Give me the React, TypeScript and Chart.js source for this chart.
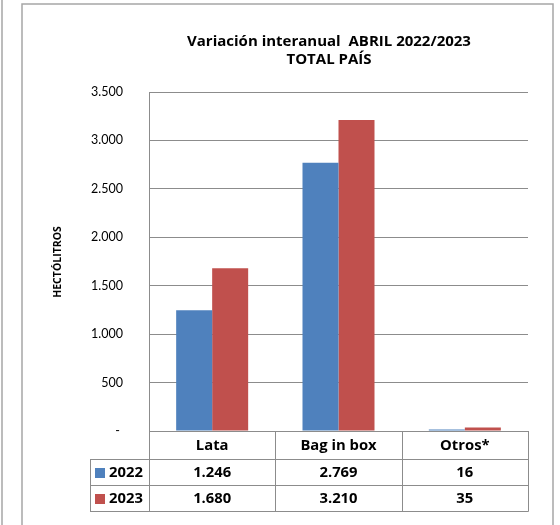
import React, { useEffect, useRef } from 'react';
import { Chart, registerables } from 'chart.js';

Chart.register(...registerables);

const categories = ['Lata', 'Bag in box', 'Otros*'];
const seriesLabels = ['2022', '2023'];
const values2022 = [1246, 2769, 16];
const values2023 = [1680, 3210, 35];
const seriesColors = ['#4F81BD', '#C0504D'];
const titleLines = ['Variación interanual  ABRIL 2022/2023', 'TOTAL PAÍS'];
const yAxisTitle = 'HECTÓLITROS';
const yMin = 0;
const yMax = 3500;
const yStep = 500;

const FONT = 'Lato, "Open Sans", "Liberation Sans", sans-serif';
const BFONT = '"Open Sans", Lato, "Liberation Sans", sans-serif';
const GRID = '#8c8c8c';
const FRAME = '#a6a6a6';

const fmt = (n: number) =>
  n === 0 ? '- ' : String(n).replace(/\B(?=(\d{3})+(?!\d))/g, '.');

const decorPlugin = {
  id: 'decor',
  beforeDraw(chart: any) {
    const ctx = chart.ctx;
    ctx.save();
    ctx.fillStyle = '#ffffff';
    ctx.fillRect(0, 0, chart.width, chart.height);
    ctx.strokeStyle = FRAME;
    ctx.lineWidth = 1.5;
    ctx.beginPath();
    ctx.moveTo(2, 0);
    ctx.lineTo(2, chart.height);
    ctx.moveTo(22, chart.height + 2);
    ctx.lineTo(22, 4);
    ctx.lineTo(553, 4);
    ctx.lineTo(553, chart.height + 2);
    ctx.stroke();
    ctx.restore();
  },
  afterDraw(chart: any) {
    const ctx = chart.ctx;
    const area = chart.chartArea;
    const xs = chart.scales.x;
    ctx.save();
    // Title
    ctx.fillStyle = '#000';
    ctx.textAlign = 'center';
    ctx.textBaseline = 'middle';
    ctx.font = `bold 15px ${BFONT}`;
    const tcx = 329;
    ctx.fillText(titleLines[0], tcx, 42);
    ctx.fillText(titleLines[1], tcx, 60);

    // Y axis title
    ctx.save();
    ctx.translate(58, 262);
    ctx.rotate(-Math.PI / 2);
    ctx.font = `bold 10.5px ${BFONT}`;
    ctx.fillText(yAxisTitle, 0, 0);
    ctx.restore();

    // Data table
    const n = categories.length;
    const colW = (area.right - area.left) / n;
    const rowTop = Math.round(area.bottom);
    const rowH = [28, 26, 26];
    const r1 = rowTop + rowH[0];
    const r2 = r1 + rowH[1];
    const r3 = r2 + rowH[2];
    const legendLeft = 90;
    const L = Math.round(area.left);
    const R = Math.round(area.right);

    ctx.strokeStyle = GRID;
    ctx.lineWidth = 1;
    ctx.beginPath();
    ctx.moveTo(L, rowTop + 0.5);
    ctx.lineTo(R, rowTop + 0.5);
    [r1, r2, r3].forEach((y) => {
      ctx.moveTo(legendLeft, y + 0.5);
      ctx.lineTo(R + 0.5, y + 0.5);
    });
    for (let i = 0; i <= n; i++) {
      const x = Math.round(area.left + i * colW) + 0.5;
      ctx.moveTo(x, rowTop);
      ctx.lineTo(x, r3 + 0.5);
    }
    ctx.moveTo(legendLeft + 0.5, r1);
    ctx.lineTo(legendLeft + 0.5, r3 + 0.5);
    ctx.stroke();

    ctx.font = `bold 14.8px ${BFONT}`;
    ctx.fillStyle = '#000';
    ctx.textAlign = 'center';
    categories.forEach((c, i) => {
      const cx = xs.getPixelForValue(i);
      ctx.fillText(c, cx, rowTop + rowH[0] / 2 + 1);
    });
    const rows = [values2022, values2023];
    const rowYs = [r1 + rowH[1] / 2 + 1, r2 + rowH[2] / 2 + 1];
    rows.forEach((vals, ri) => {
      vals.forEach((v, i) => {
        const cx = xs.getPixelForValue(i);
        ctx.fillStyle = '#000';
        ctx.textAlign = 'center';
        ctx.fillText(fmt(v), cx, rowYs[ri]);
      });
      ctx.fillStyle = seriesColors[ri];
      ctx.fillRect(95, Math.round(rowYs[ri]) - 5, 10, 10);
      ctx.fillStyle = '#000';
      ctx.textAlign = 'left';
      ctx.fillText(seriesLabels[ri], 109, rowYs[ri]);
    });
    ctx.restore();
  },
};

export default function App() {
  const ref = useRef<HTMLCanvasElement | null>(null);
  useEffect(() => {
    if (!ref.current) return;
    const chart = new Chart(ref.current, {
      type: 'bar',
      data: {
        labels: categories,
        datasets: [
          {
            label: seriesLabels[0],
            data: values2022,
            backgroundColor: seriesColors[0],
            borderWidth: 0,
            categoryPercentage: 0.57,
            barPercentage: 1.0,
          },
          {
            label: seriesLabels[1],
            data: values2023,
            backgroundColor: seriesColors[1],
            borderWidth: 0,
            categoryPercentage: 0.57,
            barPercentage: 1.0,
          },
        ],
      },
      options: {
        responsive: false,
        animation: false,
        devicePixelRatio: 1,
        layout: { padding: { top: 92, bottom: 94, left: 0, right: 32 } },
        plugins: {
          legend: { display: false },
          title: { display: false },
          tooltip: { enabled: false },
        },
        scales: {
          x: { display: false },
          y: {
            min: yMin,
            max: yMax,
            afterFit: (scale: any) => {
              scale.width = 149;
            },
            ticks: {
              stepSize: yStep,
              padding: 26,
              color: '#000',
              font: { family: FONT, size: 12.5 },
              callback: (v: any) => fmt(Number(v)),
            },
            grid: { color: GRID, drawTicks: false, lineWidth: 1 },
            border: { display: true, color: GRID, width: 1 },
          },
        },
      },
      plugins: [decorPlugin],
    } as any);
    return () => chart.destroy();
  }, []);
  return (
    <div style={{ position: 'absolute', left: 0, top: 0, width: 560, height: 525 }}>
      <canvas ref={ref} width={560} height={525} style={{ display: 'block', width: 560, height: 525 }} />
    </div>
  );
}
